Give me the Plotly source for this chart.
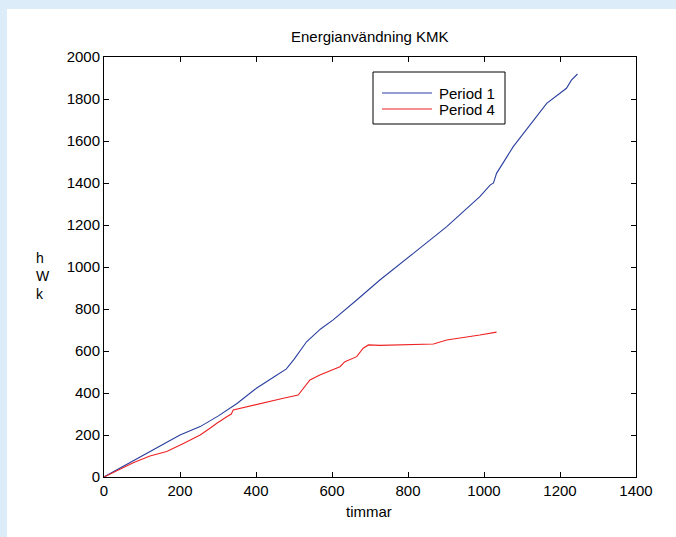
import plotly.graph_objects as go

# Period 1 (blue)
p1_hours = [0, 50, 100, 150, 200, 253, 300, 350, 402, 450, 480, 500, 533, 570, 603, 665, 726, 814, 902, 989, 1016, 1025, 1033, 1077, 1121, 1165, 1217, 1230, 1246]
p1_kwh   = [0, 50, 100, 150, 200, 240, 290, 350, 424, 480, 515, 560, 644, 705, 748, 843, 938, 1065, 1192, 1335, 1390, 1400, 1446, 1573, 1676, 1779, 1851, 1890, 1919]

# Period 4 (red)
p4_hours = [0, 40, 77, 121, 165, 209, 253, 279, 296, 323, 335, 340, 384, 428, 472, 511, 525, 542, 568, 603, 621, 634, 665, 682, 696, 726, 805, 867, 902, 946, 989, 1033]
p4_kwh   = [0, 35, 68, 100, 121, 160, 200, 232, 255, 287, 300, 319, 338, 359, 375, 390, 422, 462, 486, 510, 525, 549, 573, 613, 629, 627, 630, 633, 652, 663, 676, 690]

series_names = ["Period 1", "Period 4"]
series_colors = ["#2a3f9f", "#ee2222"]

x_ticks = [0, 200, 400, 600, 800, 1000, 1200, 1400]
y_ticks = [0, 200, 400, 600, 800, 1000, 1200, 1400, 1600, 1800, 2000]

FONT = "Liberation Sans, Arial, Helvetica, sans-serif"
FS = 15

fig = go.Figure()
fig.add_trace(go.Scatter(x=p1_hours, y=p1_kwh, mode="lines", name=series_names[0],
                         line=dict(color=series_colors[0], width=1.1)))
fig.add_trace(go.Scatter(x=p4_hours, y=p4_kwh, mode="lines", name=series_names[1],
                         line=dict(color=series_colors[1], width=1.1)))

L, R, T, B = 104, 40, 57, 60
W, H = 676, 537
pw, ph = W - L - R, H - T - B

def px_x(p):
    return (p - L) / pw

def px_y(p):
    return (H - B - p) / ph

# white figure area over light blue surround
fig.add_shape(type="rect", xref="paper", yref="paper",
              x0=px_x(7), x1=px_x(680), y0=px_y(540), y1=px_y(9),
              fillcolor="white", line=dict(width=0), layer="below")

axis_common = dict(showgrid=False, zeroline=False, showline=True, linecolor="black",
                   linewidth=1, mirror="ticks", ticks="inside", ticklen=5,
                   tickcolor="black", tickfont=dict(size=FS, color="black", family=FONT))

fig.update_xaxes(range=[0, 1400], tickvals=x_ticks, ticktext=[str(v) for v in x_ticks],
                 **axis_common)
fig.update_yaxes(range=[0, 2000], tickvals=y_ticks, ticktext=[str(v) for v in y_ticks],
                 **axis_common)

fig.add_annotation(text="Energianvändning KMK", xref="paper", yref="paper",
                   x=px_x(370), y=px_y(37), showarrow=False, xanchor="center", yanchor="middle",
                   font=dict(size=FS, color="black", family=FONT))
fig.add_annotation(text="timmar", xref="paper", yref="paper",
                   x=px_x(369), y=px_y(511), showarrow=False, xanchor="center", yanchor="middle",
                   font=dict(size=FS, color="black", family=FONT))
fig.add_annotation(text="h<br>W<br>k", xref="paper", yref="paper", align="left",
                   x=px_x(34), y=px_y(276), showarrow=False, xanchor="left", yanchor="middle",
                   font=dict(size=14, color="black", family=FONT))

# legend box (MATLAB style)
fig.add_shape(type="rect", xref="paper", yref="paper",
              x0=px_x(373), x1=px_x(505), y0=px_y(124), y1=px_y(72),
              fillcolor="white", line=dict(color="black", width=1), layer="above")
for name, col, yy in zip(series_names, series_colors, [93, 109]):
    fig.add_shape(type="line", xref="paper", yref="paper",
                  x0=px_x(382), x1=px_x(432), y0=px_y(yy), y1=px_y(yy),
                  line=dict(color=col, width=1.1), layer="above")
    fig.add_annotation(text=name, xref="paper", yref="paper",
                       x=px_x(437), y=px_y(yy), showarrow=False, xanchor="left", yanchor="middle",
                       font=dict(size=FS, color="black", family=FONT))

fig.update_layout(
    width=W, height=H,
    margin=dict(l=L, r=R, t=T, b=B),
    paper_bgcolor="#dcecf8",
    plot_bgcolor="white",
    font=dict(family=FONT, size=FS, color="black"),
    showlegend=False,
)

fig.write_html("out.html")
